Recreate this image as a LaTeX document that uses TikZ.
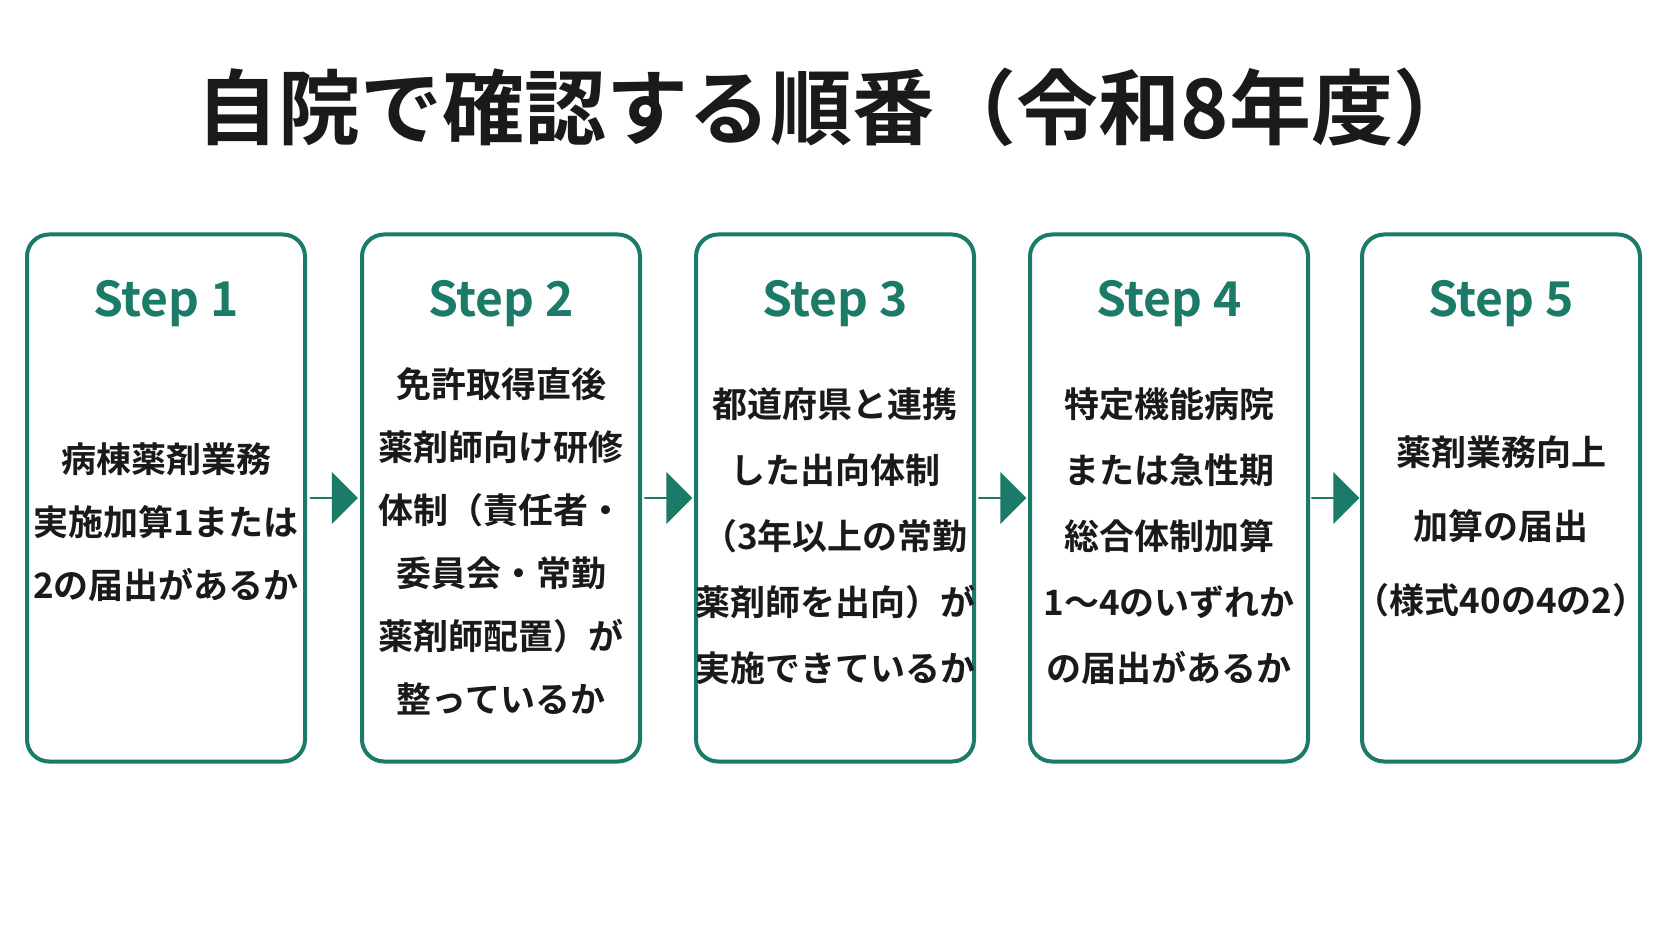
\documentclass[tikz,border=0pt]{standalone}
\usepackage{fontspec}
\setmainfont{Noto Sans CJK JP}[BoldFont={Noto Sans CJK JP Bold}]
\usetikzlibrary{shapes.arrows}
\definecolor{teal1}{HTML}{1B7A68}
\definecolor{ink}{HTML}{1A1A1A}
\begin{document}
\begin{tikzpicture}[x=1pt,y=-1pt,
  box/.style={draw=teal1,line width=4pt,rounded corners=22pt,minimum width=278pt,minimum height=527pt,fill=white},
  steplbl/.style={text=teal1,font=\bfseries\fontsize{48}{56}\selectfont},
  body/.style={text=ink,align=center,font=\bfseries\fontsize{35}{63}\selectfont},
  arr/.style={single arrow,fill=teal1,draw=none,minimum height=48pt,minimum width=52pt,single arrow head extend=6pt,inner sep=0pt}]
\useasboundingbox[fill=white] (0,0) rectangle (1672,941);
\node[text=ink,font=\bfseries\fontsize{82}{90}\selectfont] (title) at (836,107) {自院で確認する順番（令和8年度）};
\foreach \i/\x in {1/166,2/501,3/835,4/1169,5/1501}{
  \node[box] (b\i) at (\x,498) {};
  \node[steplbl] (s\i) at (\x,304) {Step \i};
}
\node[body] (t1) at (166,522) {病棟薬剤業務\\実施加算1または\\2の届出があるか};
\node[body] (t2) at (501,541) {免許取得直後\\薬剤師向け研修\\体制（責任者・\\委員会・常勤\\薬剤師配置）が\\整っているか};
\node[body,font=\bfseries\fontsize{35}{66}\selectfont] (t3) at (835,536) {都道府県と連携\\した出向体制\\（3年以上の常勤\\薬剤師を出向）が\\実施できているか};
\node[body,font=\bfseries\fontsize{35}{66}\selectfont] (t4) at (1169,536) {特定機能病院\\または急性期\\総合体制加算\\1～4のいずれか\\の届出があるか};
\node[body,font=\bfseries\fontsize{35}{74}\selectfont] (t5) at (1501,526) {薬剤業務向上\\加算の届出\\（様式40の4の2）};
\foreach \a/\b in {1/2,2/3,3/4,4/5}{
  \path (b\a.east) -- (b\b.west) node[midway,arr] (a\a) {};
}
\end{tikzpicture}
\end{document}
